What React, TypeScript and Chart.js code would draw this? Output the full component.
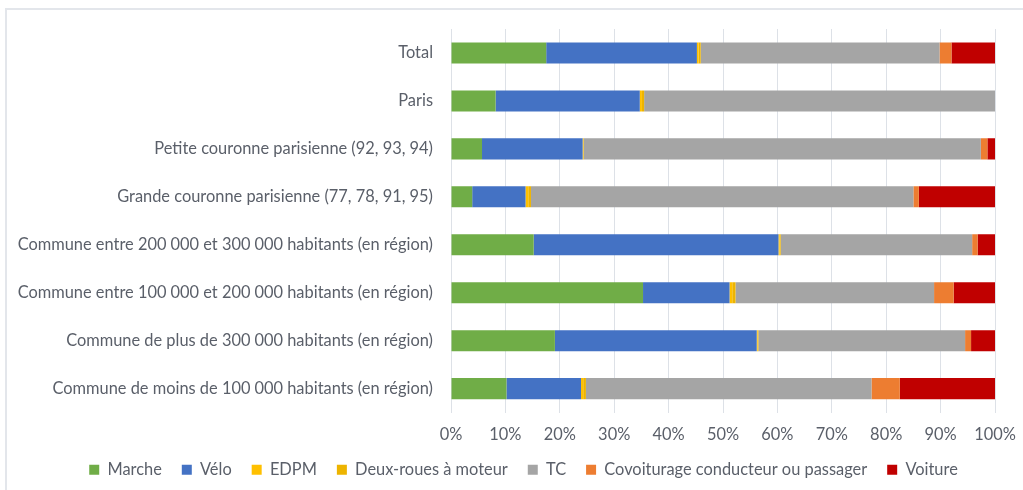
import React, { useEffect, useRef } from "react";
import { Chart, registerables } from "chart.js";

Chart.register(...registerables);

const NB = "\u202F";
const categories = [
  "Total",
  "Paris",
  "Petite couronne parisienne (92, 93, 94)",
  "Grande couronne parisienne (77, 78, 91, 95)",
  `Commune entre 200${NB}000 et 300${NB}000 habitants (en région)`,
  `Commune entre 100${NB}000 et 200${NB}000 habitants (en région)`,
  `Commune de plus de 300${NB}000 habitants (en région)`,
  `Commune de moins de 100${NB}000 habitants (en région)`,
];

const marche = [17.5, 8.2, 5.7, 3.9, 15.2, 35.3, 19.1, 10.2];
const velo = [27.7, 26.5, 18.5, 9.8, 45.0, 15.9, 37.1, 13.7];
const edpm = [0.3, 0.4, 0.1, 0.5, 0.2, 0.5, 0.15, 0.4];
const deuxRoues = [0.4, 0.4, 0.1, 0.5, 0.2, 0.6, 0.15, 0.5];
const tc = [43.9, 64.5, 73.0, 70.3, 35.2, 36.5, 38.0, 52.5];
const covoiturage = [2.2, 0, 1.2, 1.0, 1.0, 3.6, 1.1, 5.2];
const voiture = [8.0, 0, 1.4, 14.0, 3.2, 7.6, 4.4, 17.5];

const seriesNames = [
  "Marche",
  "Vélo",
  "EDPM",
  "Deux-roues à moteur",
  "TC",
  "Covoiturage conducteur ou passager",
  "Voiture",
];
const seriesColors = ["#70AD47", "#4472C4", "#FFC000", "#EDB400", "#A5A5A5", "#ED7D31", "#C00000"];

const FONT = "Lato, 'Open Sans', sans-serif";
const FS = 16.4;
const TEXT = "#5a5f69";
const LEGEND_SHIFT = 21;

const legendShift = {
  id: "legendShift",
  afterLayout(chart: any) {
    const l = chart.legend;
    if (l) {
      l.left += LEGEND_SHIFT;
      l.right += LEGEND_SHIFT;
    }
  },
};

export default function App() {
  const ref = useRef<HTMLCanvasElement | null>(null);

  useEffect(() => {
    if (!ref.current) return;
    const values = [marche, velo, edpm, deuxRoues, tc, covoiturage, voiture];
    const chart = new Chart(ref.current, {
      type: "bar",
      data: {
        labels: categories,
        datasets: values.map((v, i) => ({
          label: seriesNames[i],
          data: v,
          backgroundColor: seriesColors[i],
          borderWidth: 0,
          categoryPercentage: 0.44,
          barPercentage: 1,
        })),
      },
      options: {
        indexAxis: "y",
        animation: false,
        responsive: false,
        layout: { padding: { top: 29, right: 28, left: 10, bottom: 2 } },
        scales: {
          x: {
            stacked: true,
            min: 0,
            max: 100,
            ticks: {
              stepSize: 10,
              callback: (v: any) => `${v}%`,
              color: TEXT,
              font: { family: FONT, size: FS },
              padding: 0,
            },
            grid: {
              color: "#dde1e7",
              lineWidth: 1,
              drawTicks: true,
              tickLength: 12,
              tickColor: "rgba(0,0,0,0)",
            },
            border: { display: false },
            afterFit: (s: any) => {
              s.height = 29;
            },
          },
          y: {
            stacked: true,
            ticks: {
              color: TEXT,
              font: { family: FONT, size: FS },
              padding: 18,
              autoSkip: false,
            },
            grid: { display: false, drawTicks: false },
            border: { display: false },
            afterFit: (s: any) => {
              s.width = 441;
            },
          },
        },
        plugins: {
          legend: {
            position: "bottom",
            labels: {
              boxWidth: 10,
              boxHeight: 10,
              padding: 20,
              color: TEXT,
              font: { family: FONT, size: FS },
            },
          },
          tooltip: { enabled: false },
        },
      },
      plugins: [legendShift],
    });
    return () => chart.destroy();
  }, []);

  return (
    <div
      style={{
        position: "fixed",
        left: 0,
        top: 0,
        width: 1023,
        height: 490,
        overflow: "hidden",
        background: "#fff",
      }}
    >
      <div
        style={{
          position: "absolute",
          left: 5,
          top: 8,
          width: 2000,
          height: 2000,
          border: "2px solid #e3e6eb",
          boxSizing: "border-box",
        }}
      />
      <canvas
        ref={ref}
        width={1023}
        height={490}
        style={{ position: "absolute", left: 0, top: 0, width: 1023, height: 490 }}
      />
    </div>
  );
}
